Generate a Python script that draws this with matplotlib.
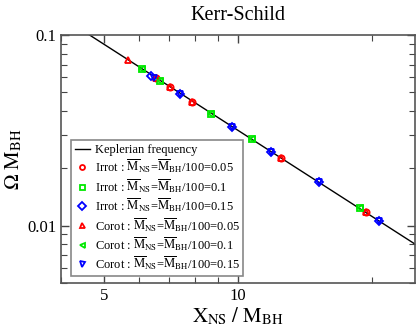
import matplotlib
matplotlib.use('Agg')
import matplotlib.pyplot as plt
from matplotlib.ticker import FixedLocator, NullFormatter, LogLocator

plt.rcParams['font.family'] = ['Liberation Serif', 'DejaVu Serif']
plt.rcParams['mathtext.fontset'] = 'stix'

# Keplerian frequency line (end points)
kep_x = [4.0, 25.0]
kep_omega = [0.125, 0.0080]

# Irrotational sequences
irrot_005_x = [6.55, 7.02, 7.90, 12.46, 19.38]
irrot_005_omega = [0.0593, 0.0536, 0.0448, 0.0226, 0.0118]
irrot_01_x = [6.09, 6.69, 8.69, 10.74, 18.79]
irrot_01_omega = [0.0664, 0.0577, 0.0387, 0.0284, 0.0124]
irrot_015_x = [6.38, 7.40, 9.68, 11.88, 15.19, 20.7]
irrot_015_omega = [0.0612, 0.0489, 0.0331, 0.0243, 0.0170, 0.0106]

# Corotating sequences
corot_005_x = [5.65, 6.55, 7.02, 7.90, 12.46, 19.38]
corot_005_omega = [0.0740, 0.0593, 0.0536, 0.0448, 0.0226, 0.0118]
corot_01_x = [6.09, 6.69, 8.69, 10.74, 18.79]
corot_01_omega = [0.0664, 0.0577, 0.0387, 0.0284, 0.0124]
corot_015_x = [6.46, 7.40, 9.68, 11.88, 15.19, 20.7]
corot_015_omega = [0.0598, 0.0489, 0.0331, 0.0243, 0.0170, 0.0106]

mlab = r'$\overline{\mathrm{M}}_{\mathrm{NS}}$=$\overline{\mathrm{M}}_{\mathrm{BH}}$/100='
green = '#00e800'

fig = plt.figure(figsize=(4.17, 3.27), dpi=100)
ax = fig.add_axes([0.1463, 0.1346, 0.849, 0.758])

ax.plot(kep_x, kep_omega, color='black', lw=1, label='Keplerian frequency')

mk = dict(ls='none', mfc='none', mew=1.3, ms=4.5)
ax.plot(irrot_005_x, irrot_005_omega, marker='o', color='red', label='Irrot : ' + mlab + '0.05', **mk)
ax.plot(irrot_01_x, irrot_01_omega, marker='s', color=green, label='Irrot : ' + mlab + '0.1', **mk)
ax.plot(irrot_015_x, irrot_015_omega, marker='D', color='blue', label='Irrot : ' + mlab + '0.15', **mk)
ax.plot(corot_005_x, corot_005_omega, marker='^', color='red', label='Corot : ' + mlab + '0.05', **mk)
ax.plot(corot_01_x, corot_01_omega, marker='<', color=green, label='Corot : ' + mlab + '0.1', **mk)
ax.plot(corot_015_x, corot_015_omega, marker='v', color='blue', label='Corot : ' + mlab + '0.15', **mk)

ax.set_xscale('log')
ax.set_yscale('log')
ax.set_xlim(4, 25)
ax.set_ylim(0.005, 0.1)

ax.xaxis.set_major_locator(FixedLocator([5, 10]))
ax.set_xticklabels(['5', '10'])
ax.xaxis.set_minor_locator(FixedLocator([4, 6, 7, 8, 9, 20]))
ax.xaxis.set_minor_formatter(NullFormatter())
ax.yaxis.set_major_locator(FixedLocator([0.01, 0.1]))
ax.set_yticklabels(['0.01', '0.1'])
ax.yaxis.set_minor_locator(LogLocator(subs=[2, 3, 4, 5, 6, 7, 8, 9]))
ax.yaxis.set_minor_formatter(NullFormatter())

ax.tick_params(which='both', direction='in', top=True, right=True, labelsize=12, color='#444')
ax.tick_params(which='major', length=6, width=1)
ax.tick_params(which='minor', length=4, width=0.8)
for s in ax.spines.values():
    s.set_color('#555')
    s.set_linewidth(1.2)

ax.set_title('Kerr-Schild', fontsize=14.5, pad=11)
ax.set_xlabel(r'$\mathrm{X}_{\mathrm{NS}}\ /\ \mathrm{M}_{\mathrm{BH}}$', fontsize=15, labelpad=1)
ax.set_ylabel(r'$\Omega\ \mathrm{M}_{\mathrm{BH}}$', fontsize=15, labelpad=2)

leg = ax.legend(loc='lower left', bbox_to_anchor=(0.028, 0.028), borderaxespad=0,
                fontsize=9, fancybox=False, framealpha=1, edgecolor='#888',
                labelspacing=0.12, handlelength=1.25, handletextpad=0.35, borderpad=0.3,
                markerscale=0.8)
leg.get_frame().set_linewidth(1.2)

fig.savefig('out.png', dpi=100)
